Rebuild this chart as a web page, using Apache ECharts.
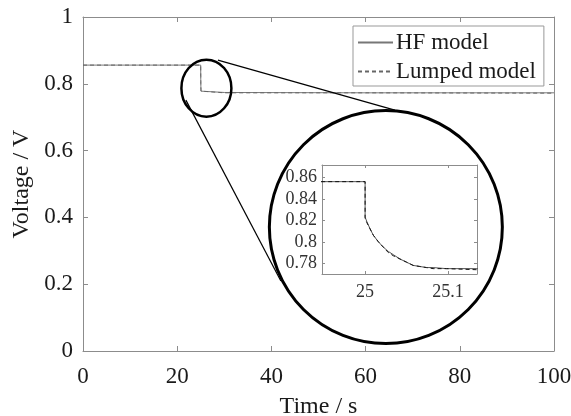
<!DOCTYPE html>
<html>
<head>
<meta charset="utf-8">
<title>Voltage response</title>
<script src="https://cdn.jsdelivr.net/npm/echarts@6/dist/echarts.min.js"></script>
<style>
html, body { margin: 0; padding: 0; background: #fff; }
#main { width: 571px; height: 416px; }
</style>
</head>
<body>
<div id="main"></div>
<script>
// 数据
var hfTime = [0, 24.99, 25.0, 25.0, 25.002, 25.006, 25.010, 25.016, 25.022, 25.028, 25.034, 25.042, 25.050, 25.058, 25.066, 25.074, 25.082, 25.098, 25.134, 30, 60, 100]
var hfVolt = [0.856, 0.856, 0.856, 0.823, 0.819, 0.812, 0.806, 0.800, 0.795, 0.791, 0.788, 0.784, 0.781, 0.778, 0.777, 0.776, 0.776, 0.775, 0.775, 0.774, 0.773, 0.773]
var lumpTime = [0, 24.99, 25.0, 25.0, 25.002, 25.006, 25.010, 25.016, 25.022, 25.028, 25.034, 25.042, 25.050, 25.058, 25.066, 25.074, 25.082, 25.098, 25.134, 30, 60, 100]
var lumpVolt = [0.856, 0.856, 0.856, 0.822, 0.818, 0.812, 0.806, 0.800, 0.795, 0.790, 0.787, 0.784, 0.781, 0.778, 0.777, 0.776, 0.775, 0.775, 0.774, 0.773, 0.773, 0.772]
var insetXTicks = [25, 25.1]
var insetYTicks = [0.78, 0.8, 0.82, 0.84, 0.86]

function pairs(xs, ys) {
  var out = []
  for (var i = 0; i < xs.length; i++) out.push([xs[i], ys[i]])
  return out
}

var font = "Liberation Serif"
var axisGray = "#8c8c8c"
var txt = "#1a1a1a"

var chartDom = document.getElementById("main")
var myChart = echarts.init(chartDom)

function boxAxis(extra) {
  var a = {
    type: "value",
    splitLine: { show: false },
    axisLine: { onZero: false, lineStyle: { color: axisGray, width: 1 } },
    axisTick: { inside: true, length: 5, lineStyle: { color: axisGray } },
    axisLabel: { show: false }
  }
  for (var k in extra) a[k] = extra[k]
  return a
}

var option = {
  animation: false,
  backgroundColor: "#fff",
  grid: [
    { left: 83, right: 17, top: 17, bottom: 65, outerBoundsMode: "none" },
    { left: 322, top: 165, width: 155, height: 109, outerBoundsMode: "none" }
  ],
  legend: {
    data: ["HF model", "Lumped model"],
    orient: "vertical",
    left: 353,
    top: 26,
    padding: [5, 8, 3, 4],
    itemGap: 6,
    itemWidth: 35,
    itemHeight: 14,
    borderColor: "#999",
    borderWidth: 1,
    backgroundColor: "#fff",
    itemStyle: { opacity: 0 },
    textStyle: { fontFamily: font, fontSize: 23, color: txt, padding: [0, 0, 0, -2] }
  },
  xAxis: [
    boxAxis({
      gridIndex: 0, min: 0, max: 100, interval: 20, position: "bottom",
      axisLabel: { show: true, fontFamily: font, fontSize: 23, color: txt, margin: 14 },
      name: "Time / s", nameLocation: "middle", nameGap: 44,
      nameTextStyle: { fontFamily: font, fontSize: 24, color: txt }
    }),
    boxAxis({ gridIndex: 0, min: 0, max: 100, interval: 20, position: "top" }),
    boxAxis({
      gridIndex: 1, min: 24.948, max: 25.135, position: "bottom",
      axisTick: { inside: true, length: 3, customValues: insetXTicks, lineStyle: { color: axisGray } },
      axisLabel: { show: true, customValues: insetXTicks, fontFamily: font, fontSize: 18, color: "#333", margin: 9 }
    }),
    boxAxis({
      gridIndex: 1, min: 24.948, max: 25.135, position: "top",
      axisTick: { inside: true, length: 3, customValues: insetXTicks, lineStyle: { color: axisGray } }
    })
  ],
  yAxis: [
    boxAxis({
      gridIndex: 0, min: 0, max: 1, interval: 0.2, position: "left",
      axisLabel: { show: true, fontFamily: font, fontSize: 23, color: txt, margin: 10 },
      name: "Voltage / V", nameLocation: "middle", nameGap: 39,
      nameTextStyle: { fontFamily: font, fontSize: 24, color: txt }
    }),
    boxAxis({ gridIndex: 0, min: 0, max: 1, interval: 0.2, position: "right" }),
    boxAxis({
      gridIndex: 1, min: 0.77, max: 0.8715, position: "left",
      axisTick: { inside: true, length: 3, customValues: insetYTicks, lineStyle: { color: axisGray } },
      axisLabel: { show: true, customValues: insetYTicks, fontFamily: font, fontSize: 18, color: "#333", margin: 5 }
    }),
    boxAxis({
      gridIndex: 1, min: 0.77, max: 0.8715, position: "right",
      axisTick: { inside: true, length: 3, customValues: insetYTicks, lineStyle: { color: axisGray } }
    })
  ],
  series: [
    {
      name: "HF model", type: "line", xAxisIndex: 0, yAxisIndex: 0,
      data: pairs(hfTime, hfVolt), symbol: "none",
      lineStyle: { color: "#777", width: 1 }, itemStyle: { color: "#777" }
    },
    {
      name: "Lumped model", type: "line", xAxisIndex: 0, yAxisIndex: 0,
      data: pairs(lumpTime, lumpVolt), symbol: "none",
      lineStyle: { color: "#666", width: 1, type: [4, 3] }, itemStyle: { color: "#666" }
    },
    {
      name: "HF inset", type: "line", xAxisIndex: 2, yAxisIndex: 2,
      data: pairs(hfTime, hfVolt), symbol: "none", clip: true,
      lineStyle: { color: "#555", width: 1 }
    },
    {
      name: "Lumped inset", type: "line", xAxisIndex: 2, yAxisIndex: 2,
      data: pairs(lumpTime, lumpVolt), symbol: "none", clip: true,
      lineStyle: { color: "#111", width: 1, type: [4, 3] }
    }
  ]
}
myChart.setOption(option)

// zoom circles and connecting lines
var sc = myChart.convertToPixel({ gridIndex: 0 }, [26.2, 0.787])
var bc = myChart.convertToPixel({ gridIndex: 0 }, [64.3, 0.371])
myChart.setOption({
  graphic: [
    { type: "ellipse", shape: { cx: sc[0], cy: sc[1], rx: 25, ry: 28.5 }, style: { fill: null, stroke: "#000", lineWidth: 2.5 }, z: 100 },
    { type: "circle", shape: { cx: bc[0], cy: bc[1], r: 116.5 }, style: { fill: null, stroke: "#000", lineWidth: 3 }, z: 100 },
    { type: "line", shape: { x1: sc[0] + 11.5, y1: sc[1] - 28, x2: bc[0] + 9, y2: bc[1] - 117 }, style: { stroke: "#000", lineWidth: 1.2 }, z: 100 },
    { type: "line", shape: { x1: sc[0] - 20.5, y1: sc[1] + 12, x2: bc[0] - 105, y2: bc[1] + 54 }, style: { stroke: "#000", lineWidth: 1.2 }, z: 100 }
  ]
})
//自适应
window.addEventListener("resize", function () {
  myChart.resize()
})
</script>
</body>
</html>
